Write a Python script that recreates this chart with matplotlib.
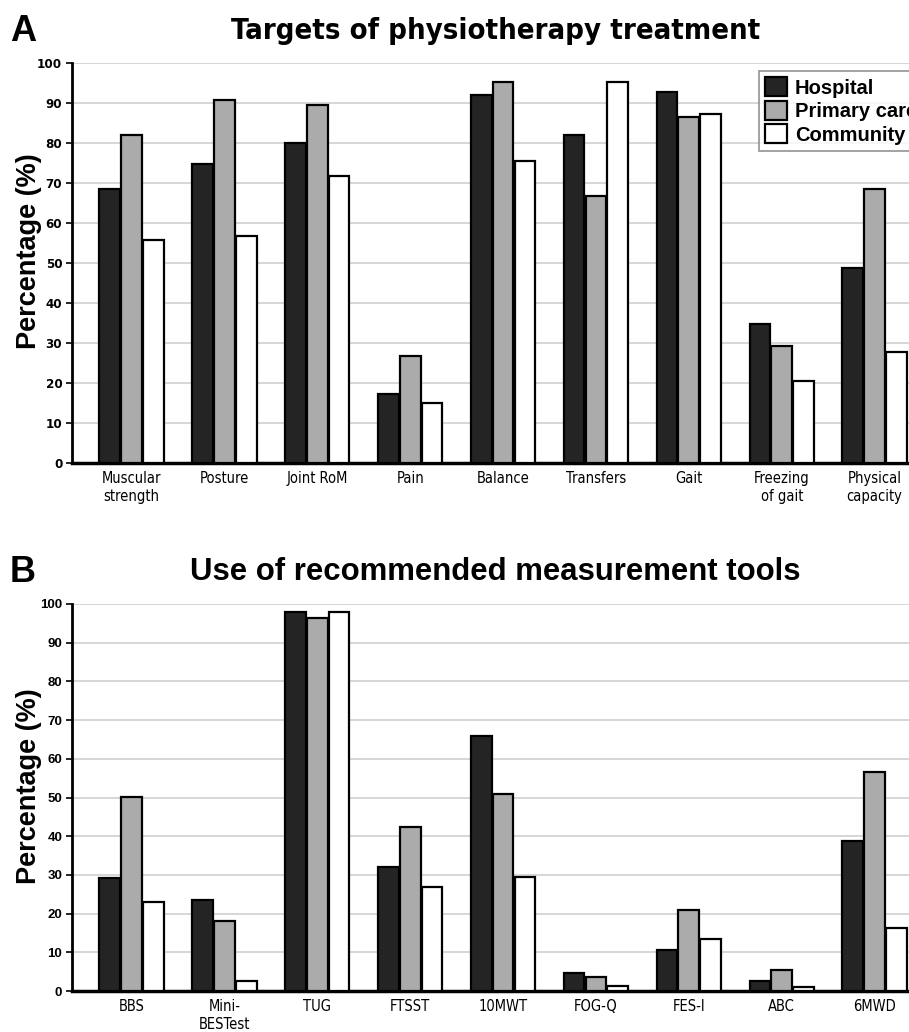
import numpy as np
import matplotlib.pyplot as plt
from matplotlib import font_manager

groups = ["Hospital", "Primary care", "Community"]
colors = ["#242424", "#ababab", "#ffffff"]

cats_a = ["Muscular\nstrength", "Posture", "Joint RoM", "Pain", "Balance",
          "Transfers", "Gait", "Freezing\nof gait", "Physical\ncapacity"]
hosp_a = [68.5, 74.7, 80.0, 17.3, 92.0, 82.0, 92.7, 34.7, 48.7]
prim_a = [82.0, 90.7, 89.5, 26.8, 95.3, 66.8, 86.4, 29.2, 68.4]
comm_a = [55.7, 56.7, 71.8, 15.1, 75.5, 95.3, 87.2, 20.4, 27.8]

cats_b = ["BBS", "Mini-\nBESTest", "TUG", "FTSST", "10MWT", "FOG-Q",
          "FES-I", "ABC", "6MWD"]
hosp_b = [29.3, 23.4, 98.0, 32.0, 66.0, 4.7, 10.6, 2.7, 38.7]
prim_b = [50.2, 18.2, 96.5, 42.4, 51.0, 3.5, 21.0, 5.5, 56.5]
comm_b = [23.1, 2.6, 98.0, 26.8, 29.5, 1.3, 13.4, 1.0, 16.3]

plt.rcParams["font.family"] = ["Liberation Sans", "DejaVu Sans"]

# condensed face for the narrow texts, if one is installed
cond = [f for f in font_manager.fontManager.ttflist if "ondensed" in f.fname or "Narrow" in f.name]
if cond:
    narrow = dict(family=cond[0].name, stretch="condensed")
else:
    narrow = dict(family="Liberation Sans")

fig = plt.figure(figsize=(9.09, 10.32), dpi=100)

W = 0.235
x_lo, x_hi = -0.64, 8.6
ax_w = (x_hi - x_lo) * 92.9 / 909


def panel(rect, cats, series, title, letter, tick_font, title_font, title_size, legend):
    ax = fig.add_axes(rect)
    x = np.arange(len(cats))
    for i, (vals, c, lab) in enumerate(zip(series, colors, groups)):
        ax.bar(x + (i - 1) * W, vals, W * 0.95, color=c, edgecolor="black",
               linewidth=1.6, label=lab, zorder=3)
    ax.set_xlim(x_lo, x_hi)
    ax.set_ylim(0, 100)
    ax.set_yticks(range(0, 101, 10))
    ax.set_yticklabels([str(v) for v in range(0, 101, 10)], fontsize=9.5,
                       fontweight="bold", **tick_font)
    ax.set_xticks(x)
    ax.set_xticklabels(cats, fontsize=10.5, linespacing=1.2, **narrow)
    ax.tick_params(axis="x", length=0, pad=6)
    ax.tick_params(axis="y", length=4, width=1.2, pad=3)
    ax.grid(axis="y", color="#d0d0d0", linewidth=1.2, zorder=0)
    for s in ["top", "right"]:
        ax.spines[s].set_visible(False)
    ax.spines["left"].set_linewidth(2.0)
    ax.spines["bottom"].set_linewidth(2.5)
    ax.set_ylabel("Percentage (%)", fontsize=19.5, fontweight="bold")
    ax.yaxis.set_label_coords(-0.035, 0.53)
    fig.text(0.545, rect[1] + rect[3] + 0.031, title, ha="center", va="center",
             fontsize=title_size, fontweight="bold", **title_font)
    fig.text(0.011, rect[1] + rect[3] + 0.031, letter, ha="left", va="center",
             fontsize=26, fontweight="bold")
    if legend:
        leg = ax.legend(loc="upper left", bbox_to_anchor=(0.80, 0.98),
                        prop={"weight": "bold", "size": 14.5}, frameon=True,
                        fancybox=False, edgecolor="#777777", borderpad=0.3,
                        handlelength=1.1, handleheight=1.1, handletextpad=0.4,
                        labelspacing=0.15, borderaxespad=0)
        leg.get_frame().set_linewidth(1.2)
    return ax


panel([72 / 909, 1 - 463 / 1032, ax_w, 400 / 1032], cats_a,
      [hosp_a, prim_a, comm_a], "Targets of physiotherapy treatment", "A",
      narrow, narrow, 21, True)
panel([72 / 909, 1 - 991 / 1032, ax_w, 387 / 1032], cats_b,
      [hosp_b, prim_b, comm_b], "Use of recommended measurement tools", "B",
      dict(family="Liberation Sans"), dict(family="Liberation Sans"), 22.4, False)

fig.savefig("out.png", dpi=100)
